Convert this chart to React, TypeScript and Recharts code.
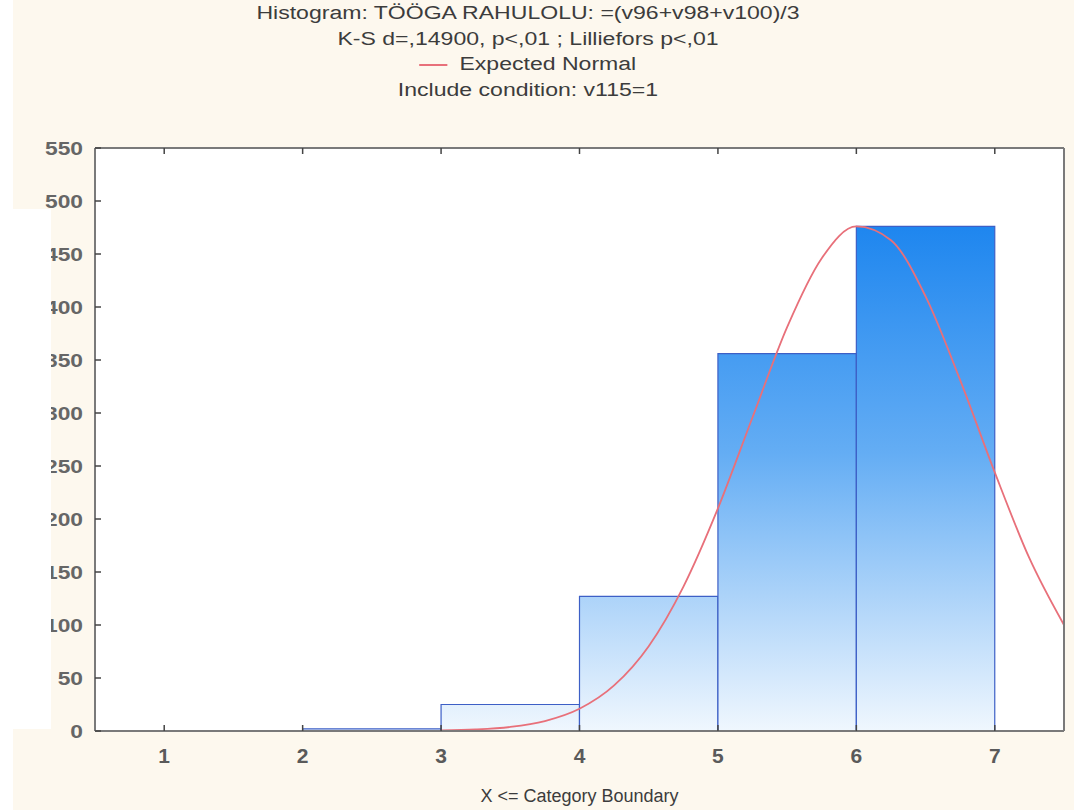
import {
  ComposedChart,
  Bar,
  Line,
  XAxis,
  YAxis,
  CartesianGrid,
} from "recharts";

// histogram bins: X <= upper boundary
const binUpper = [2, 3, 4, 5, 6, 7];
const binCounts = [0, 2, 25, 127, 356, 476];

// expected normal curve
const curveX = [3, 3.25, 3.5, 3.75, 4, 4.25, 4.5, 4.75, 5, 5.25, 5.5, 5.75, 6, 6.25, 6.5, 6.75, 7, 7.25, 7.5];
const curveY = [0.5, 1.4, 3.8, 9.4, 21, 43, 80, 136, 210, 296, 381, 446, 476, 463, 410, 331, 244, 163, 100];

const xTicks = [1, 2, 3, 4, 5, 6, 7];
const yTicks = [0, 50, 100, 150, 200, 250, 300, 350, 400, 450, 500, 550];

const titleLines = [
  "Histogram: TÖÖGA RAHULOLU: =(v96+v98+v100)/3",
  "K-S d=,14900, p<,01 ; Lilliefors p<,01",
];
const legendLabel = "Expected Normal";
const conditionLine = "Include condition: v115=1";

const bins = binUpper.map((u, i) => ({ mid: u - 0.5, count: binCounts[i] }));
const curve = curveX.map((x, i) => ({ x, normal: curveY[i] }));

const FONT = "'Liberation Sans', Arial, sans-serif";
const TEXT = "#3c3c3c";
const FRAME = "#7a7a7a";

// the source image is stretched sideways, so the text is too
function YTick(props: any) {
  const { x, y, payload } = props;
  return (
    <text
      x={0}
      y={0}
      transform={`translate(${x},${y}) scale(1.2,1)`}
      textAnchor="end"
      dy="0.36em"
      fill="#666"
      fontSize={19}
      fontWeight="bold"
      fontFamily={FONT}
    >
      {payload.value}
    </text>
  );
}

function XTick(props: any) {
  const { x, y, payload } = props;
  return (
    <text
      x={x}
      y={y}
      textAnchor="middle"
      dy="0.8em"
      fill="#5a5a5a"
      fontSize={21}
      fontWeight="bold"
      fontFamily={FONT}
    >
      {payload.value}
    </text>
  );
}

export default function App() {
  return (
    <div
      style={{
        position: "absolute",
        left: 0,
        top: 0,
        width: 1074,
        height: 810,
        background: "#fdf8ee",
        fontFamily: FONT,
        overflow: "hidden",
      }}
    >
      <div
        style={{
          position: "absolute",
          left: 0,
          top: 1,
          width: 1056,
          textAlign: "center",
          color: TEXT,
          fontSize: 18,
          lineHeight: "25.5px",
          transform: "scaleX(1.28)",
          transformOrigin: "528px 0",
        }}
      >
        <div>{titleLines[0]}</div>
        <div>{titleLines[1]}</div>
        <div>
          <span style={{ display: "inline-block", width: 22, height: 0, borderTop: "2px solid #e8707a", verticalAlign: "middle", marginRight: 9 }} />
          {legendLabel}
        </div>
        <div>{conditionLine}</div>
      </div>

      <div style={{ position: "absolute", left: 0, top: 0 }}>
        <ComposedChart
          width={1074}
          height={810}
          data={bins}
          margin={{ top: 147, right: 0, bottom: 0, left: 0 }}
        >
          <defs>
            <linearGradient id="barFill" gradientUnits="userSpaceOnUse" x1="0" y1="226" x2="0" y2="731">
              <stop offset="0%" stopColor="#1e86ef" />
              <stop offset="45%" stopColor="#64adf4" />
              <stop offset="100%" stopColor="#f0f7fe" />
            </linearGradient>
          </defs>
          <rect x={95} y={148} width={969} height={583} fill="#ffffff" />
          <CartesianGrid horizontal vertical={false} stroke="#e2e2e2" strokeWidth={1.5} yAxisId="left" xAxisId="bins" />
          <XAxis
            xAxisId="bins"
            dataKey="mid"
            type="number"
            domain={[0.5, 7.5]}
            ticks={xTicks}
            interval={0}
            height={79}
            tickSize={-6}
            tickMargin={21}
            axisLine={{ stroke: FRAME, strokeWidth: 2 }}
            tickLine={{ stroke: "#444", strokeWidth: 1.5 }}
            tick={<XTick />}
            label={{ value: "X <= Category Boundary", position: "insideBottom", offset: 8, fill: TEXT, fontSize: 18 }}
          />
          <XAxis
            xAxisId="curve"
            dataKey="x"
            type="number"
            orientation="top"
            domain={[0.5, 7.5]}
            ticks={xTicks}
            height={1}
            tickSize={-6}
            tickFormatter={() => ""}
            axisLine={{ stroke: FRAME, strokeWidth: 2 }}
            tickLine={{ stroke: "#444", strokeWidth: 1.5 }}
          />
          <YAxis
            yAxisId="left"
            domain={[0, 550]}
            ticks={yTicks}
            interval={0}
            width={95}
            tickSize={-6}
            tickMargin={18}
            axisLine={{ stroke: FRAME, strokeWidth: 2 }}
            tickLine={{ stroke: "#444", strokeWidth: 1.5 }}
            tick={<YTick />}
          />
          <YAxis
            yAxisId="right"
            orientation="right"
            domain={[0, 550]}
            ticks={yTicks}
            interval={0}
            width={10}
            tickSize={-6}
            tickFormatter={() => ""}
            axisLine={{ stroke: FRAME, strokeWidth: 2 }}
            tickLine={{ stroke: "#444", strokeWidth: 1.5 }}
          />
          <Bar
            xAxisId="bins"
            yAxisId="left"
            dataKey="count"
            barSize={138.4}
            fill="url(#barFill)"
            stroke="#3d5fc6"
            strokeWidth={1.2}
            isAnimationActive={false}
          />
          <Line
            xAxisId="curve"
            yAxisId="left"
            data={curve}
            dataKey="normal"
            type="monotone"
            stroke="#e8707a"
            strokeWidth={1.8}
            dot={false}
            activeDot={false}
            isAnimationActive={false}
          />
        </ComposedChart>
      </div>

      {/* white patches that sit over the left edge of the source picture */}
      <div style={{ position: "absolute", left: 0, top: 0, width: 13, height: 810, background: "#ffffff" }} />
      <div style={{ position: "absolute", left: 0, top: 209, width: 51, height: 520, background: "#ffffff" }} />
    </div>
  );
}
